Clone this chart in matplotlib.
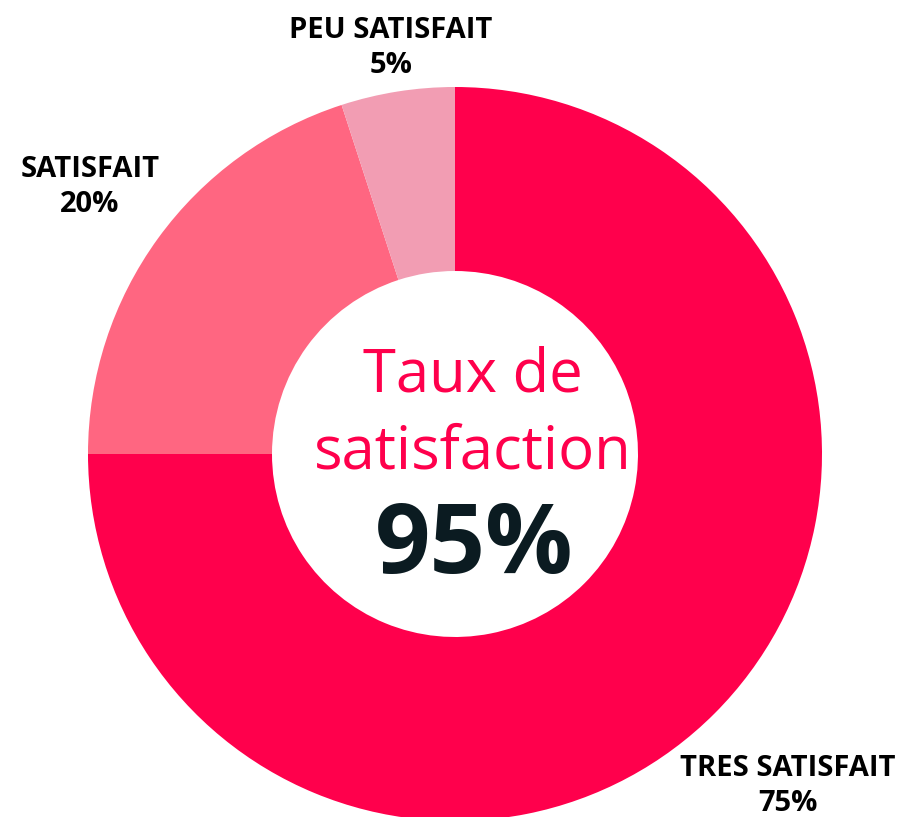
import matplotlib
matplotlib.use("Agg")
import matplotlib.pyplot as plt

categories = ["TRES SATISFAIT", "SATISFAIT", "PEU SATISFAIT"]
values = [75, 20, 5]
colors = ["#FF004C", "#FF6681", "#F29DB3"]
center_title = "Taux de\nsatisfaction"
center_value = "95%"

W, H = 900, 817
fig = plt.figure(figsize=(W / 100, H / 100), dpi=100)
ax = fig.add_axes([0, 0, 1, 1])

cx, cy, R, r = 455, 454, 367, 183
ax.pie(values, colors=colors, startangle=-90, counterclock=True,
       center=(cx, cy), radius=R,
       wedgeprops=dict(width=R - r, linewidth=0))
ax.set_xlim(0, W)
ax.set_ylim(H, 0)
ax.set_aspect("equal")
ax.axis("off")

label_pos = {"TRES SATISFAIT": (788, 786), "SATISFAIT": (90, 187), "PEU SATISFAIT": (391, 48)}
for cat, v in zip(categories, values):
    x, y = label_pos[cat]
    ax.text(x, y, f"{cat}\n{v}%", ha="center", va="center", fontsize=21,
            fontweight="bold", family="Open Sans", color="#000000", linespacing=1.3)

ax.text(473, 414, center_title, ha="center", va="center", fontsize=43,
        family="Open Sans", color="#FF004C", linespacing=1.36)
ax.text(474, 548, center_value, ha="center", va="center", fontsize=70,
        fontweight="bold", family="Open Sans", color="#0B1B21")

fig.savefig("out.png", dpi=100)
